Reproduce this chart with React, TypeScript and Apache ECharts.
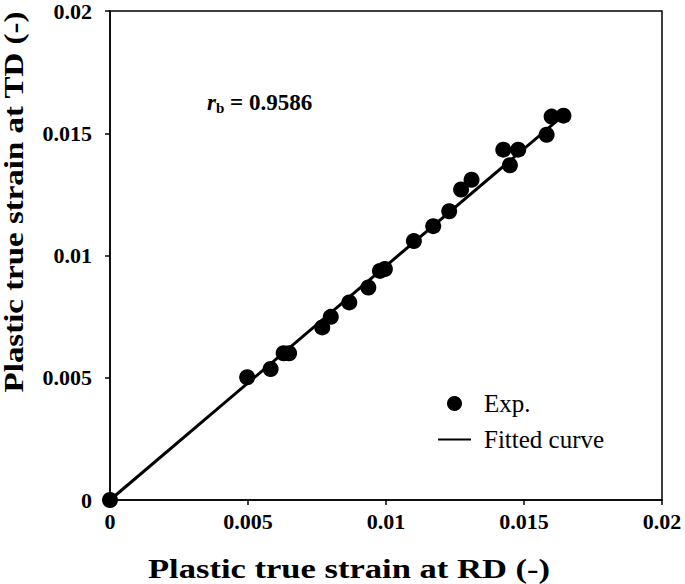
import React, { useEffect, useRef } from "react";
import * as echarts from "echarts";

const expX = [0, 0.00497, 0.00582, 0.00629, 0.00649, 0.00769, 0.008, 0.00867, 0.00936, 0.00978, 0.00996, 0.01101, 0.01171, 0.01229, 0.01272, 0.0131, 0.01425, 0.01449, 0.01479, 0.01582, 0.016, 0.01643];
const expY = [0, 0.00502, 0.00536, 0.006, 0.006, 0.00706, 0.00749, 0.00808, 0.00869, 0.00937, 0.00945, 0.01059, 0.0112, 0.01181, 0.0127, 0.0131, 0.01433, 0.01369, 0.01433, 0.01494, 0.01568, 0.01572];
const fitX = [0, 0.0165];
const fitY = [0, 0.0158];
const tickLabels = ["0", "0.005", "0.01", "0.015", "0.02"];

const FONT = "'Liberation Serif', 'Times New Roman', serif";

export default function App() {
  const ref = useRef<HTMLDivElement>(null);
  useEffect(() => {
    if (!ref.current) return;
    const chart = echarts.init(ref.current, null, { renderer: "svg" });
    const fmt = (v: number) => {
      const i = Math.round(v / 0.005);
      return tickLabels[i] ?? String(v);
    };
    const axisCommon = {
      type: "value" as const,
      min: 0,
      max: 0.02,
      interval: 0.005,
      splitLine: { show: false },
      axisLine: { show: true, lineStyle: { color: "#000", width: 1.5 } },
      axisTick: { show: true, inside: false, length: 5, lineStyle: { color: "#000", width: 1.5 } },
      axisLabel: { formatter: fmt, color: "#000", fontFamily: FONT, fontWeight: "bold" as const, fontSize: 22 },
    };
    chart.setOption({
      animation: false,
      backgroundColor: "#fff",
      grid: { left: 110, right: 23, top: 9, bottom: 84, show: true, borderColor: "#000", borderWidth: 1.5 },
      xAxis: { ...axisCommon, axisLabel: { ...axisCommon.axisLabel, margin: 10 } },
      yAxis: { ...axisCommon, axisLabel: { ...axisCommon.axisLabel, margin: 18 } },
      legend: {
        orient: "vertical",
        left: 437,
        top: 391,
        padding: 0,
        itemWidth: 33,
        itemHeight: 15,
        itemGap: 11,
        textStyle: { fontFamily: FONT, fontSize: 25, color: "#000", padding: [0, 0, 0, 8] },
        data: [
          { name: "Exp.", icon: "circle" },
          { name: "Fitted curve", itemStyle: { opacity: 0 } },
        ],
      },
      series: [
        {
          name: "Fitted curve",
          type: "line",
          data: fitX.map((x, i) => [x, fitY[i]]),
          symbol: "none",
          itemStyle: { color: "#000" },
          lineStyle: { color: "#000", width: 3 },
          z: 2,
        },
        {
          name: "Exp.",
          type: "scatter",
          data: expX.map((x, i) => [x, expY[i]]),
          symbolSize: 16,
          itemStyle: { color: "#000", opacity: 1 },
          z: 3,
        },
      ],
      graphic: [
        {
          type: "text",
          x: 349,
          y: 569,
          scaleX: 1.28,
          style: {
            text: "Plastic true strain at RD (-)",
            font: `bold 27px ${FONT}`,
            fill: "#000",
            align: "center",
            verticalAlign: "middle",
          },
        },
        {
          type: "text",
          x: 14,
          y: 202,
          rotation: Math.PI / 2,
          scaleX: 1.22,
          style: {
            text: "Plastic true strain at TD (-)",
            font: `bold 27px ${FONT}`,
            fill: "#000",
            align: "center",
            verticalAlign: "middle",
          },
        },
        {
          type: "text",
          x: 207,
          y: 102,
          style: {
            text: "{i|r}{s|b}{n| = 0.9586}",
            verticalAlign: "middle",
            rich: {
              i: { font: `italic bold 23px ${FONT}`, fill: "#000" },
              s: { font: `bold 15px ${FONT}`, fill: "#000", padding: [12, 0, 0, 0] },
              n: { font: `bold 23px ${FONT}`, fill: "#000" },
            },
          },
        },
      ],
    });
    return () => chart.dispose();
  }, []);
  return <div ref={ref} style={{ width: 685, height: 584, position: "absolute", left: 0, top: 0 }} />;
}
